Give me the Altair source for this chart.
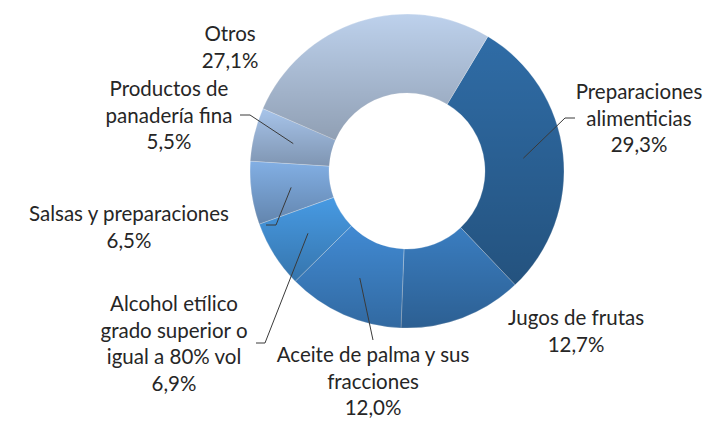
import math
import altair as alt
import pandas as pd

# ---- data ----
categories = [
    "Preparaciones alimenticias",
    "Jugos de frutas",
    "Aceite de palma y sus fracciones",
    "Alcohol etílico grado superior o igual a 80% vol",
    "Salsas y preparaciones",
    "Productos de panadería fina",
    "Otros",
]
shares = [29.3, 12.7, 12.0, 6.9, 6.5, 5.5, 27.1]
label_names = [
    "Preparaciones\nalimenticias",
    "Jugos de frutas",
    "Aceite de palma y sus\nfracciones",
    "Alcohol etílico\ngrado superior o\nigual a 80% vol",
    "Salsas y preparaciones",
    "Productos de\npanadería fina",
    "Otros",
]
colors = ["#2F6CA6", "#3A7DC0", "#418AD3", "#479AE3", "#82AFE4", "#A7C4EA", "#BDD1EC"]

# ---- layout (pixels, relative to the donut centre) ----
W, H = 695, 412
CX, CY = 399, 163
R_OUT, R_IN = 157, 78
START = math.radians(31)
LEADER_R = 117
label_pos = {   # centre x / first-line y of each label
    "Preparaciones alimenticias": (232, -78),
    "Jugos de frutas": (169, 148),
    "Aceite de palma y sus fracciones": (-34, 185),
    "Alcohol etílico grado superior o igual a 80% vol": (-233, 134),
    "Salsas y preparaciones": (-278, 44),
    "Productos de panadería fina": (-238, -81),
    "Otros": (-177, -136),
}
leader = {      # (elbow, end) of the leader line; None = no leader
    "Preparaciones alimenticias": ((158, -53), (168, -53)),
    "Aceite de palma y sus fracciones": ((-34, 169), (-34, 169)),
    "Alcohol etílico grado superior o igual a 80% vol": ((-142, 172), (-151, 172)),
    "Salsas y preparaciones": ((-131, 54), (-141, 54)),
    "Productos de panadería fina": ((-157, -56), (-167, -56)),
}

rows = []
for i, (c, v, n) in enumerate(zip(categories, shares, label_names)):
    lx, ly = label_pos[c]
    ld = leader.get(c)
    rows.append({
        "idx": i,
        "category": c,
        "value": v,
        "label": n + "\n" + f"{v:.1f}".replace(".", ",") + "%",
        "lx": CX + lx, "ly": CY + ly,
        "has_leader": ld is not None,
        "ex": CX + (ld[0][0] if ld else 0), "ey": CY + (ld[0][1] if ld else 0),
        "fx": CX + (ld[1][0] if ld else 0), "fy": CY + (ld[1][1] if ld else 0),
    })
df = pd.DataFrame(rows)

base = alt.Chart(df)

theta = alt.Theta("value:Q", stack=True,
                  scale=alt.Scale(range=[START, START + 2 * math.pi]))
order = alt.Order("idx:Q", sort="ascending")

arcs = base.mark_arc(outerRadius=R_OUT, innerRadius=R_IN,
                     stroke="#ffffff", strokeWidth=0.6, strokeOpacity=0.5).encode(
    theta=theta,
    order=order,
    fill=alt.Fill("category:N", scale=alt.Scale(domain=categories, range=colors),
                  legend=None),
    x=alt.value(CX), y=alt.value(CY),
)

shade = base.mark_arc(
    outerRadius=R_OUT, innerRadius=R_IN,
    fill=alt.Gradient(
        gradient="linear", x1=0, x2=0, y1=0, y2=1,
        stops=[alt.GradientStop(color="rgba(0,0,0,0)", offset=0),
               alt.GradientStop(color="rgba(0,0,0,0.24)", offset=1)],
    ),
).encode(theta=theta, order=order, x=alt.value(CX), y=alt.value(CY))

geo = base.transform_window(
    cum="sum(value)", sort=[alt.SortField("idx", order="ascending")]
).transform_joinaggregate(
    total="sum(value)"
).transform_calculate(
    mid=f"{START} + 2*PI*(datum.cum - datum.value/2)/datum.total"
).transform_calculate(
    sx=f"{CX} + {LEADER_R}*sin(datum.mid)",
    sy=f"{CY} - {LEADER_R}*cos(datum.mid)",
).transform_filter("datum.has_leader")

leader1 = geo.mark_rule(color="#3a3a3a", strokeWidth=1).encode(
    x=alt.X("sx:Q", scale=None), y=alt.Y("sy:Q", scale=None),
    x2="ex:Q", y2="ey:Q",
)
leader2 = geo.mark_rule(color="#3a3a3a", strokeWidth=1).encode(
    x=alt.X("ex:Q", scale=None), y=alt.Y("ey:Q", scale=None),
    x2="fx:Q", y2="fy:Q",
)

labels = base.mark_text(
    font="Lato", fontSize=20.5, lineHeight=26.5, lineBreak="\n",
    align="center", baseline="middle", color="#262626",
).encode(
    x=alt.X("lx:Q", scale=None), y=alt.Y("ly:Q", scale=None),
    text="label:N",
)

chart = alt.layer(arcs, shade, leader1, leader2, labels).properties(
    width=W, height=H, padding=0, autosize="none",
).configure_view(stroke=None)

chart.save("out.html", embed_options={"renderer": "svg", "actions": False})
